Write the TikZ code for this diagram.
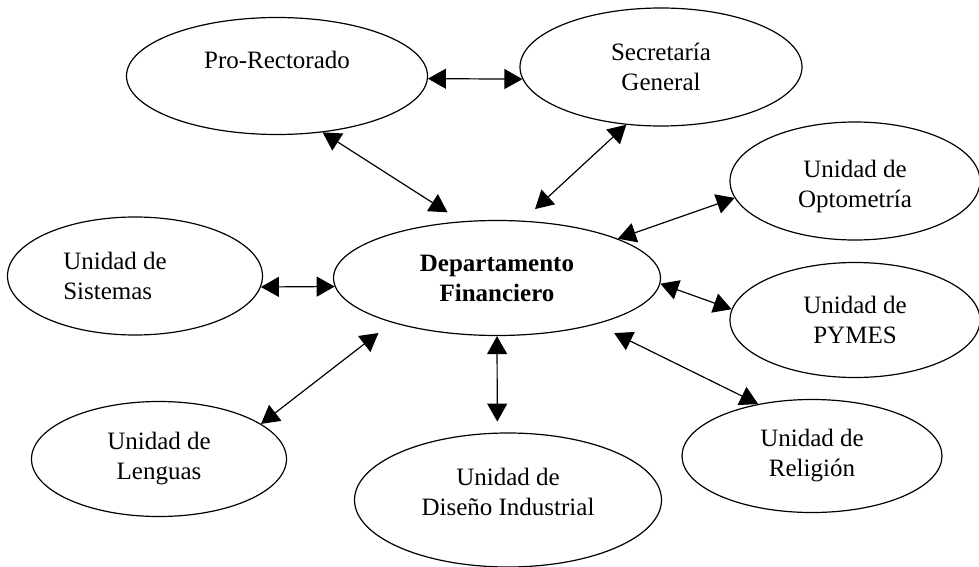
\documentclass[tikz,border=0pt]{standalone}
\usepackage{fontspec}
\setmainfont{Liberation Serif}
\usepackage{tikz}
\usetikzlibrary{shapes, arrows.meta}

\begin{document}
\begin{tikzpicture}[x=0.5pt, y=-0.5pt, font=\fontsize{12.5}{15}\selectfont]
  \tikzstyle{unit}=[ellipse, draw, line width=0.6pt, inner sep=0pt, align=center]
  \tikzstyle{link}=[{Triangle[length=9pt,width=10pt]}-{Triangle[length=9pt,width=10pt]},
  line width=0.6pt]

  \useasboundingbox (0,0) rectangle (979,567);

  \node (pro) at (277,76) [unit, minimum width=150.5pt, minimum height=58.5pt,
  label={[yshift=8pt]center:Pro-Rectorado}] {};
  \node (sec) at (661,67) [unit, minimum width=141pt, minimum height=59pt] {Secretaría\\General};
  \node (opt) at (855,181) [unit, minimum width=125pt, minimum height=59pt,
  label={[align=center, yshift=-2.5pt]center:{Unidad de\\Optometría}}] {};

  \node (dep) at (497,278) [unit, minimum width=163.5pt, minimum height=57.5pt,
  font=\fontsize{12.5}{15}\selectfont\bfseries] {Departamento\\Financiero};
  \node (sis) at (135,276) [unit, minimum width=127.5pt, minimum height=59pt,
  label={[align=left, xshift=-10pt]center:{Unidad de\\Sistemas}}] {};
  \node (pym) at (855,320) [unit, minimum width=125pt, minimum height=57.5pt] {Unidad de\\PYMES};

  \node (len) at (159,459) [unit, minimum width=127.5pt, minimum height=57.5pt] {Unidad de\\Lenguas};
  \node (dis) at (508,500) [unit, minimum width=153.5pt, minimum height=67pt,
  label={[align=center, yshift=4pt]center:{Unidad de\\Diseño Industrial}}] {};
  \node (rel) at (812,456) [unit, minimum width=130pt, minimum height=56.5pt] {Unidad de\\Religión};

  \draw [link] (pro.359) -- (sec.185);
  \draw [link, shorten >=8.3pt] (pro.309) -- (dep.122);
  \draw [link, shorten >=8.5pt] (sec.239) -- (dep.66);
  \draw [link] (opt.188) -- (dep.18);
  \draw [link] (sis.355) -- (dep.183);
  \draw [link] (dep.358) -- (pym.175);
  \draw [link, shorten >=8.5pt] (len.19) -- (dep.203);
  \draw [link, shorten >=5.5pt] (dep.south) -- (dis.99);
  \draw [link, shorten <=10pt] (dep.335) -- (rel.136);

\end{tikzpicture}
\end{document}
